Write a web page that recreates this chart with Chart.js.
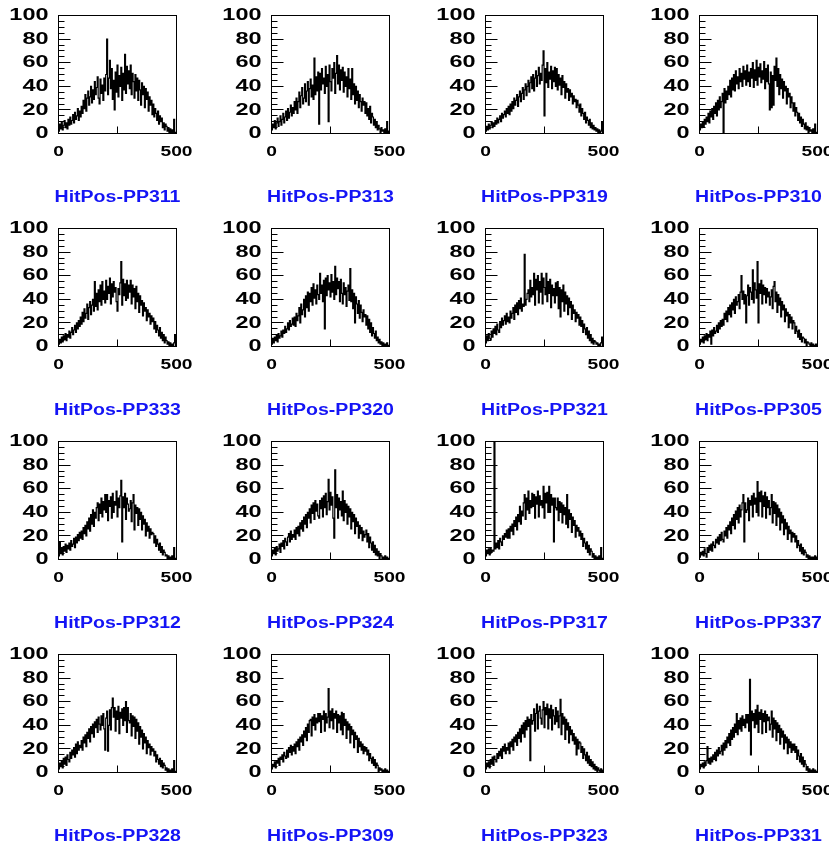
<!DOCTYPE html>
<html lang="pt-br">

<head>
    <meta charset="UTF-8">
    <title>HitPos - PP</title>
    <script src="https://cdn.jsdelivr.net/npm/chart.js"></script>
    <style>
        body {
            margin: 0;
            background: #ffffff;
        }

        .janela {
            position: relative;
            width: 829px;
            height: 846px;
            overflow: hidden;
        }

        .janela canvas {
            position: absolute;
        }
    </style>
</head>

<body>
    <div class="janela" id="janela"></div>

    <script>
        // histogramas: 125 bins de largura 4 (0..500), uma linha = 100 unidades
        const binWidth = 4;

        const pp311 = [2, 8, 4, 10, 3, 7, 11, 5, 9, 4, 12, 7, 14, 8, 11, 16, 9, 18, 12, 15, 21, 11, 19, 14, 23,
            17, 28, 21, 33, 19, 30, 36, 24, 31, 40, 26, 37, 29, 44, 33, 39, 48, 30, 25, 46, 34, 41, 28, 47, 36,
            50, 80, 33, 47, 62, 38, 55, 29, 45, 20, 52, 35, 58, 31, 49, 40, 56, 28, 51, 37, 67, 34, 57, 42, 53,
            38, 58, 33, 51, 44, 30, 50, 36, 47, 28, 45, 37, 24, 43, 33, 40, 22, 38, 29, 35, 19, 31, 24, 28, 16,
            25, 14, 21, 17, 11, 19, 8, 15, 10, 13, 5, 9, 3, 8, 6, 2, 5, 1, 4, 0, 3, 1, 12, 0, 1];
        const pp313 = [3, 8, 5, 11, 4, 9, 13, 6, 10, 15, 7, 12, 17, 9, 14, 19, 11, 21, 13, 18, 24, 15, 22, 17, 27,
            20, 30, 17, 27, 35, 22, 32, 39, 25, 30, 42, 27, 36, 44, 24, 38, 46, 31, 41, 29, 64, 33, 48, 36, 52,
            8, 51, 37, 55, 42, 47, 34, 57, 40, 50, 10, 58, 44, 36, 55, 47, 60, 34, 51, 66, 42, 58, 37, 54, 45,
            56, 35, 52, 40, 48, 31, 55, 38, 46, 29, 55, 33, 42, 25, 40, 28, 36, 22, 33, 27, 19, 30, 24, 27, 17,
            26, 15, 21, 12, 23, 9, 17, 14, 7, 12, 5, 10, 3, 7, 4, 1, 5, 2, 3, 1, 4, 0, 10, 1, 2];
        const pp319 = [2, 6, 3, 8, 4, 7, 10, 5, 9, 6, 11, 8, 13, 9, 12, 15, 10, 17, 13, 16, 19, 14, 21, 17, 23,
            16, 25, 19, 27, 21, 30, 24, 28, 33, 23, 31, 36, 27, 34, 39, 29, 37, 42, 32, 40, 45, 35, 43, 48, 38,
            50, 36, 47, 53, 40, 49, 56, 42, 51, 45, 58, 70, 15, 55, 43, 60, 39, 52, 46, 57, 38, 53, 44, 56, 40,
            55, 37, 50, 41, 47, 33, 49, 39, 44, 30, 42, 35, 38, 28, 37, 31, 34, 25, 32, 27, 29, 22, 28, 24, 18,
            25, 15, 21, 17, 12, 18, 9, 14, 11, 7, 12, 5, 9, 4, 7, 3, 5, 2, 4, 1, 3, 0, 2, 10, 1];
        const pp310 = [3, 8, 5, 10, 6, 12, 8, 14, 10, 17, 9, 19, 14, 21, 12, 23, 17, 26, 15, 28, 20, 31, 22, 27, 34,
            0, 38, 26, 36, 29, 40, 33, 45, 31, 47, 37, 50, 36, 53, 42, 48, 38, 55, 44, 51, 40, 57, 46, 53, 41,
            58, 44, 52, 40, 55, 47, 60, 39, 54, 45, 62, 41, 56, 48, 59, 43, 53, 46, 61, 38, 55, 44, 58, 42, 20,
            52, 22, 49, 24, 57, 45, 64, 40, 55, 33, 50, 38, 46, 30, 44, 36, 40, 25, 38, 31, 34, 22, 31, 26, 19,
            26, 15, 22, 18, 11, 17, 9, 14, 6, 12, 8, 4, 9, 3, 6, 1, 5, 2, 3, 0, 4, 1, 8, 1, 0];
        const pp333 = [2, 6, 3, 8, 4, 9, 6, 11, 5, 10, 8, 13, 7, 12, 16, 10, 14, 18, 12, 20, 15, 22, 17, 25, 19,
            29, 21, 32, 24, 28, 36, 23, 33, 38, 27, 35, 40, 30, 55, 34, 45, 31, 48, 38, 52, 35, 55, 40, 47, 37,
            56, 40, 51, 45, 58, 36, 53, 42, 55, 46, 50, 38, 30, 49, 44, 54, 72, 35, 57, 43, 53, 39, 56, 41, 52,
            46, 56, 36, 52, 42, 49, 32, 51, 38, 45, 29, 43, 35, 39, 26, 37, 30, 33, 22, 31, 25, 28, 19, 26, 21,
            24, 15, 21, 12, 18, 14, 9, 16, 7, 12, 5, 10, 3, 8, 5, 2, 4, 1, 3, 0, 2, 1, 3, 10, 1];
        const pp320 = [2, 7, 3, 8, 5, 10, 4, 11, 7, 9, 13, 8, 14, 11, 17, 12, 15, 20, 14, 22, 17, 19, 24, 18, 25,
            17, 28, 22, 26, 33, 20, 36, 27, 31, 40, 25, 43, 33, 46, 30, 45, 38, 50, 35, 53, 41, 48, 36, 52, 44,
            40, 62, 45, 52, 38, 56, 15, 58, 43, 60, 48, 54, 42, 61, 46, 55, 40, 68, 44, 58, 49, 55, 38, 57, 45,
            36, 54, 44, 50, 34, 47, 52, 39, 66, 38, 48, 32, 45, 20, 42, 36, 28, 39, 24, 35, 29, 21, 31, 25, 27,
            18, 26, 15, 23, 12, 20, 9, 16, 11, 7, 13, 5, 8, 3, 6, 2, 4, 1, 3, 0, 2, 1, 3, 0, 1];
        const pp321 = [3, 9, 5, 11, 7, 6, 13, 8, 15, 11, 17, 10, 19, 14, 12, 21, 16, 24, 18, 22, 26, 19, 28, 21, 25,
            20, 30, 24, 28, 33, 23, 35, 29, 37, 27, 39, 32, 41, 30, 36, 34, 78, 35, 40, 45, 48, 38, 56, 42, 50,
            44, 62, 35, 57, 48, 60, 37, 55, 46, 62, 36, 58, 50, 44, 62, 38, 55, 45, 57, 33, 52, 43, 49, 37, 54,
            43, 55, 32, 50, 25, 48, 38, 52, 30, 46, 36, 43, 27, 41, 33, 38, 23, 35, 28, 31, 21, 29, 24, 27, 18,
            25, 17, 22, 12, 19, 15, 10, 16, 7, 13, 5, 10, 3, 7, 2, 5, 4, 2, 3, 1, 2, 0, 3, 8, 0];
        const pp305 = [2, 6, 4, 8, 3, 9, 6, 11, 5, 10, 8, 13, 2, 14, 9, 16, 11, 13, 18, 12, 20, 15, 22, 17, 23,
            18, 28, 23, 30, 21, 33, 27, 35, 25, 37, 31, 40, 28, 42, 35, 38, 44, 32, 46, 60, 40, 47, 36, 44, 20,
            43, 52, 35, 50, 46, 40, 65, 37, 54, 48, 41, 72, 20, 53, 45, 56, 36, 52, 44, 50, 37, 49, 42, 46, 35,
            42, 48, 32, 51, 55, 38, 46, 29, 44, 35, 41, 25, 38, 31, 35, 21, 32, 26, 29, 16, 27, 20, 25, 15, 22,
            20, 11, 17, 13, 8, 14, 6, 11, 4, 8, 7, 3, 6, 1, 4, 3, 2, 0, 3, 1, 2, 0, 1, 2, 0];
        const pp312 = [3, 15, 5, 10, 4, 11, 7, 13, 6, 12, 9, 14, 8, 16, 11, 13, 18, 10, 19, 14, 21, 16, 23, 18, 24,
            17, 27, 22, 29, 20, 32, 26, 35, 24, 38, 30, 42, 28, 40, 35, 44, 48, 33, 47, 39, 52, 36, 49, 42, 55,
            40, 55, 33, 50, 45, 53, 35, 56, 40, 49, 46, 58, 36, 52, 44, 54, 67, 15, 53, 44, 56, 34, 52, 47, 41,
            43, 50, 32, 48, 55, 25, 46, 39, 44, 29, 43, 34, 40, 25, 37, 30, 34, 20, 31, 24, 28, 18, 26, 21, 23,
            22, 14, 20, 11, 17, 13, 8, 14, 6, 11, 4, 8, 6, 3, 4, 1, 3, 0, 2, 1, 3, 0, 10, 1, 0];
        const pp324 = [3, 8, 5, 10, 4, 11, 7, 9, 13, 6, 14, 11, 16, 9, 18, 15, 12, 19, 22, 15, 24, 17, 21, 19, 25,
            17, 27, 22, 28, 20, 31, 26, 33, 24, 36, 30, 38, 27, 40, 35, 43, 31, 46, 39, 48, 34, 50, 41, 47, 37,
            35, 50, 43, 52, 36, 54, 44, 56, 38, 49, 68, 42, 57, 46, 53, 35, 18, 76, 44, 55, 35, 52, 42, 49, 37,
            58, 33, 50, 40, 47, 30, 45, 36, 43, 26, 40, 32, 38, 22, 35, 28, 32, 18, 29, 22, 27, 16, 24, 19, 21,
            25, 15, 22, 10, 19, 14, 8, 15, 6, 12, 4, 9, 3, 7, 1, 5, 3, 0, 2, 1, 3, 0, 2, 1, 0];
        const pp317 = [3, 8, 5, 9, 4, 10, 6, 8, 7, 120, 9, 14, 10, 16, 9, 18, 15, 12, 20, 17, 22, 19, 25, 18, 26,
            18, 28, 24, 30, 21, 33, 28, 36, 25, 38, 32, 45, 30, 41, 37, 48, 55, 34, 52, 42, 58, 39, 50, 44, 56,
            45, 55, 35, 53, 47, 58, 36, 54, 46, 50, 44, 62, 35, 56, 48, 57, 40, 62, 40, 55, 46, 52, 15, 52, 44,
            42, 52, 33, 49, 40, 48, 31, 46, 38, 44, 30, 55, 27, 42, 34, 39, 23, 36, 29, 33, 19, 29, 24, 27, 20,
            24, 17, 22, 11, 18, 14, 9, 15, 6, 12, 4, 9, 7, 2, 5, 1, 3, 0, 2, 1, 3, 0, 10, 1, 0];
        const pp337 = [2, 6, 4, 7, 3, 9, 5, 2, 10, 6, 12, 8, 13, 7, 15, 12, 10, 17, 14, 19, 13, 21, 16, 23, 17,
            15, 24, 20, 27, 18, 29, 25, 32, 22, 35, 29, 38, 26, 41, 34, 44, 31, 46, 36, 42, 48, 55, 15, 48, 40,
            42, 52, 33, 50, 46, 54, 36, 56, 47, 52, 40, 66, 37, 57, 49, 58, 36, 54, 45, 57, 35, 53, 44, 50, 38,
            44, 55, 31, 49, 39, 48, 29, 46, 36, 43, 25, 40, 31, 37, 21, 34, 26, 31, 17, 28, 22, 25, 15, 23, 19,
            22, 15, 20, 10, 16, 12, 7, 13, 5, 10, 4, 8, 6, 2, 4, 1, 3, 0, 2, 1, 2, 0, 3, 1, 2];
        const pp328 = [3, 8, 5, 10, 4, 12, 7, 13, 6, 15, 11, 9, 17, 12, 19, 15, 21, 13, 24, 16, 26, 19, 23, 21, 27,
            19, 30, 25, 32, 22, 34, 29, 37, 26, 39, 33, 41, 30, 43, 38, 45, 34, 47, 41, 36, 48, 40, 50, 37, 19,
            46, 52, 18, 40, 53, 36, 55, 63, 47, 55, 35, 52, 45, 56, 33, 51, 46, 54, 40, 55, 44, 60, 34, 55, 44,
            42, 50, 31, 48, 39, 47, 29, 45, 35, 42, 24, 39, 30, 36, 20, 33, 25, 30, 16, 27, 21, 24, 15, 22, 18,
            20, 14, 18, 9, 15, 11, 7, 12, 5, 10, 4, 8, 6, 2, 4, 1, 3, 0, 2, 1, 3, 0, 10, 1, 0];
        const pp309 = [3, 7, 5, 9, 4, 10, 8, 12, 6, 13, 11, 15, 9, 17, 14, 12, 19, 13, 21, 17, 23, 15, 22, 18, 24,
            16, 26, 22, 28, 19, 30, 26, 32, 23, 35, 30, 38, 27, 41, 34, 44, 45, 31, 47, 40, 49, 36, 46, 42, 50,
            43, 50, 34, 48, 45, 52, 35, 50, 42, 47, 71, 38, 52, 44, 54, 37, 50, 46, 52, 34, 49, 42, 48, 36, 51,
            32, 50, 40, 45, 29, 43, 36, 41, 25, 39, 32, 36, 21, 34, 28, 31, 17, 29, 22, 26, 19, 24, 16, 22, 18,
            21, 15, 19, 10, 16, 12, 8, 13, 6, 11, 4, 8, 6, 1, 4, 2, 3, 0, 2, 1, 3, 0, 2, 1, 0];
        const pp323 = [3, 8, 5, 9, 4, 11, 7, 13, 6, 14, 11, 9, 16, 12, 18, 14, 20, 12, 22, 18, 24, 16, 21, 19, 25,
            16, 26, 22, 28, 19, 30, 26, 32, 23, 34, 29, 37, 26, 40, 33, 42, 30, 44, 36, 47, 39, 45, 10, 49, 41,
            44, 54, 35, 50, 58, 37, 52, 56, 46, 41, 53, 60, 38, 55, 49, 58, 37, 54, 46, 57, 36, 53, 48, 41, 55,
            43, 52, 38, 48, 62, 32, 50, 41, 47, 28, 45, 36, 42, 25, 39, 32, 36, 27, 33, 24, 30, 15, 28, 20, 26,
            25, 17, 22, 12, 20, 15, 10, 17, 8, 14, 6, 11, 5, 9, 3, 7, 2, 5, 1, 4, 2, 0, 3, 1, 2];
        const pp331 = [3, 7, 5, 8, 4, 9, 6, 10, 22, 8, 12, 7, 13, 9, 15, 11, 17, 10, 19, 14, 21, 16, 18, 23, 15,
            25, 19, 27, 21, 30, 25, 33, 23, 36, 28, 38, 30, 41, 34, 50, 32, 44, 37, 46, 35, 48, 40, 45, 38, 49,
            42, 49, 35, 79, 15, 52, 44, 50, 38, 53, 41, 57, 34, 51, 45, 53, 33, 50, 43, 52, 34, 49, 44, 47, 36,
            41, 52, 30, 46, 37, 44, 27, 42, 34, 40, 24, 37, 30, 35, 20, 32, 25, 30, 16, 28, 21, 26, 17, 24, 19,
            24, 17, 22, 11, 19, 14, 9, 16, 7, 13, 5, 10, 7, 2, 5, 1, 3, 0, 2, 1, 3, 0, 2, 1, 0];

        const nomes = ['HitPos-PP311', 'HitPos-PP313', 'HitPos-PP319', 'HitPos-PP310',
            'HitPos-PP333', 'HitPos-PP320', 'HitPos-PP321', 'HitPos-PP305',
            'HitPos-PP312', 'HitPos-PP324', 'HitPos-PP317', 'HitPos-PP337',
            'HitPos-PP328', 'HitPos-PP309', 'HitPos-PP323', 'HitPos-PP331'];
        const contagens = [pp311, pp313, pp319, pp310, pp333, pp320, pp321, pp305,
            pp312, pp324, pp317, pp337, pp328, pp309, pp323, pp331];

        // eixos
        const xMin = 0, xMax = 500;
        const yMin = 0, yMax = 100;
        const yLabels = [0, 20, 40, 60, 80, 100];
        const yMinorStep = 5;
        const xLabels = [0, 500];
        const xMajor = [250];

        // posicao dos paineis na janela
        const colLeft = [0, 213, 427, 641];
        const rowTop = [0, 213, 426, 639];

        const fonte = '"Liberation Sans", Arial, Helvetica, sans-serif';

        // texto esticado na horizontal, ancorado pelo lado pedido
        function textoLargo(ctx, texto, x, y, escala, align) {
            const w = ctx.measureText(texto).width * escala;
            let x0 = x;
            if (align === 'right') x0 = x - w;
            if (align === 'center') x0 = x - w / 2;
            ctx.save();
            ctx.translate(x0, y);
            ctx.scale(escala, 1);
            ctx.textAlign = 'left';
            ctx.textBaseline = 'middle';
            ctx.fillText(texto, 0, 0);
            ctx.restore();
        }

        function meioPixel(v) {
            return Math.round(v - 0.5) + 0.5;
        }

        // moldura, ticks para dentro, rotulos e titulo do painel
        const molduraRoot = {
            id: 'molduraRoot',
            afterDatasetsDraw(chart, args, opts) {
                const ctx = chart.ctx;
                const a = chart.chartArea;
                const x = chart.scales.x;
                const y = chart.scales.y;

                ctx.save();
                ctx.strokeStyle = '#000000';
                ctx.lineWidth = 1;
                ctx.strokeRect(a.left, a.top, a.right - a.left, a.bottom - a.top);

                ctx.beginPath();
                for (let v = yMin; v <= yMax; v += yMinorStep) {
                    const py = meioPixel(y.getPixelForValue(v));
                    const len = yLabels.includes(v) ? 12 : 6;
                    ctx.moveTo(a.left, py);
                    ctx.lineTo(a.left + len, py);
                }
                for (const v of xMajor) {
                    const px = meioPixel(x.getPixelForValue(v));
                    ctx.moveTo(px, a.bottom);
                    ctx.lineTo(px, a.bottom - 7);
                }
                ctx.stroke();

                ctx.fillStyle = '#000000';
                ctx.font = 'bold 17px ' + fonte;
                for (const v of yLabels) {
                    textoLargo(ctx, String(v), a.left - 10, y.getPixelForValue(v), 1.38, 'right');
                }
                ctx.font = 'bold 15px ' + fonte;
                for (const v of xLabels) {
                    textoLargo(ctx, String(v), x.getPixelForValue(v), a.bottom + 18, 1.28, 'center');
                }

                ctx.fillStyle = 'rgb(20, 20, 245)';
                ctx.font = 'bold 16px ' + fonte;
                textoLargo(ctx, opts.titulo, (a.left + a.right) / 2, a.bottom + 64.5, 1.22, 'center');

                ctx.restore();
            }
        };

        function plotarPainel(i) {
            const canvas = document.createElement('canvas');
            canvas.width = 213;
            canvas.height = 213;
            canvas.style.left = colLeft[i % 4] + 'px';
            canvas.style.top = rowTop[Math.floor(i / 4)] + 'px';
            document.getElementById('janela').appendChild(canvas);

            // pontos na borda inferior de cada bin + borda final
            const valores = contagens[i];
            const pontos = valores.map((v, k) => ({ x: xMin + k * binWidth, y: v }));
            pontos.push({ x: xMax, y: valores[valores.length - 1] });

            const config = {
                type: 'line',
                data: {
                    datasets: [{
                        data: pontos,
                        stepped: 'before',
                        borderColor: '#000000',
                        borderWidth: 1.2,
                        pointRadius: 0,
                        fill: false
                    }]
                },
                options: {
                    responsive: false,
                    animation: false,
                    devicePixelRatio: 1,
                    events: [],
                    layout: {
                        padding: { left: 58.5, top: 15.5, right: 36.5, bottom: 79.5 }
                    },
                    plugins: {
                        legend: { display: false },
                        tooltip: { enabled: false },
                        molduraRoot: { titulo: nomes[i] }
                    },
                    scales: {
                        x: { type: 'linear', min: xMin, max: xMax, display: false },
                        y: { min: yMin, max: yMax, display: false }
                    }
                },
                plugins: [molduraRoot]
            };

            new Chart(canvas, config);
        }

        for (let i = 0; i < nomes.length; i++) {
            plotarPainel(i);
        }
    </script>
</body>

</html>
